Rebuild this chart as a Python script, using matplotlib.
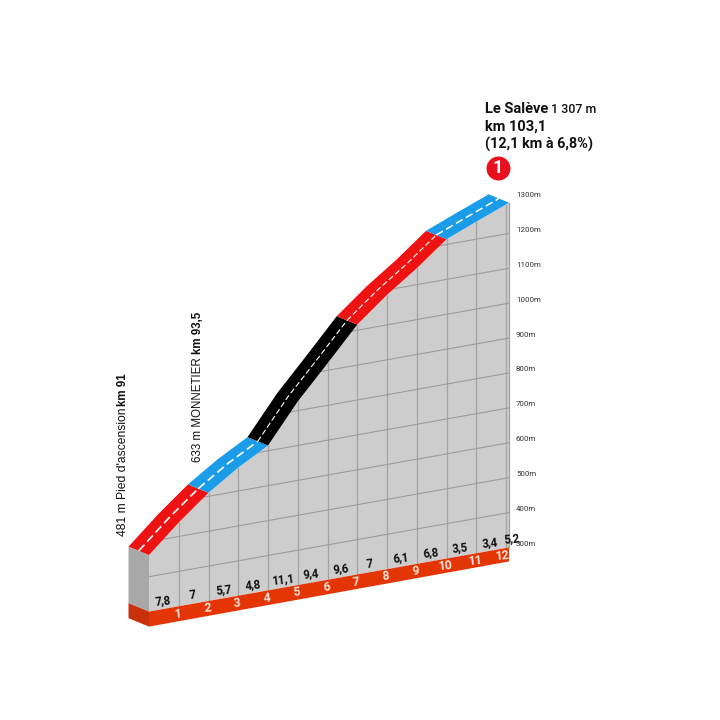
import numpy as np
import matplotlib
matplotlib.use("Agg")
from matplotlib import pyplot as plt

plt.rcParams['font.family'] = ['Roboto', 'DejaVu Sans']
ARIAL = ['Liberation Sans', 'DejaVu Sans']

# profile
km = [0, 1, 2, 3, 4, 5, 6, 7, 8, 9, 10, 11, 12, 12.1]
alt = [481, 559, 629, 686, 734, 845, 939, 1035, 1105, 1166, 1234, 1269, 1303, 1307]
gradients = ["7,8", "7", "5,7", "4,8", "11,1", "9,4", "9,6", "7", "6,1", "6,8", "3,5", "3,4", "5,2"]
gradient_km = [0.47, 1.48, 2.5, 3.48, 4.5, 5.45, 6.45, 7.42, 8.46, 9.47, 10.45, 11.45, 12.2]
km_marks = [1, 2, 3, 4, 5, 6, 7, 8, 9, 10, 11, 12]
alt_ticks = [300, 400, 500, 600, 700, 800, 900, 1000, 1100, 1200, 1300]
# road pieces: first km, last km, colour
pieces = [(0, 2, '#ee1212'), (2, 4, '#1b9ce8'), (4, 7, '#000000'), (7, 10, '#ee1212'), (10, 12.1, '#1b9ce8')]
dash_width = [1.2, 1.2, 0.8, 0.8, 1.1]

km = np.array(km)
alt = np.array(alt)

# oblique view, everything goes through this
PX_KM = 29.75
SLANT = 5.3
PX_M = 0.349
X0, Y0 = 149, 611.6


def project(k, a):
    k = np.asarray(k, dtype=float)
    a = np.asarray(a, dtype=float)
    return X0 + k * PX_KM, Y0 - k * SLANT - (a - 300) * PX_M


DEPTH = (-20.5, -8.4)   # front edge to back edge of the road
ROAD_DROP = 6.6         # front edge of road sits a bit under the real altitude
STRIP = 15

fig = plt.figure(figsize=(7.2, 7.2), dpi=100)
ax = fig.add_axes([0, 0, 1, 1])
ax.set_xlim(0, 720)
ax.set_ylim(720, 0)
ax.axis('off')

fx, fy = project(km, alt)
fy = fy + ROAD_DROP
bx0, by0 = project(km[[0, -1]], [300, 300])

# grey wall
ax.fill(np.r_[fx, bx0[1], bx0[0]], np.r_[fy, by0[1], by0[0]], color='#cdcdcd', lw=0, zorder=1)
# left face
ax.fill([X0 + DEPTH[0], X0, X0, X0 + DEPTH[0]],
        [fy[0] + DEPTH[1], fy[0], Y0, Y0 + DEPTH[1]], color='#a8a8a8', lw=0, zorder=1)

# grid
for k in list(km_marks) + [km[-1]]:
    x, top = project(k, np.interp(k, km, alt))
    x, bot = project(k, 300)
    ax.plot([x, x], [top + ROAD_DROP, bot], color='#a3a3a3', lw=0.9, zorder=2)
for a in alt_ticks[1:-1]:
    # the line starts where it comes out from under the road
    k0 = max(np.interp(a - ROAD_DROP / PX_M, alt, km), 0)
    xs, ys = project([k0, km[-1]], [a, a])
    ax.plot(xs, ys, color='#9c9c9c', lw=0.8, zorder=2)

# strip at the bottom
ax.fill([bx0[0], bx0[1], bx0[1], bx0[0]],
        [by0[0], by0[1], by0[1] + STRIP - 1, by0[0] + STRIP], color='#e33505', lw=0, zorder=3)
ax.fill([X0 + DEPTH[0], X0, X0, X0 + DEPTH[0]],
        [Y0 + DEPTH[1], Y0, Y0 + STRIP, Y0 + DEPTH[1] + STRIP], color='#c9310a', lw=0, zorder=3)

# road
for (start, end, col), w in zip(pieces, dash_width):
    i = (km >= start) & (km <= end)
    ax.fill(np.r_[fx[i], fx[i][::-1] + DEPTH[0]], np.r_[fy[i], fy[i][::-1] + DEPTH[1]],
            color=col, lw=0, zorder=4)
    ax.plot(fx[i] + DEPTH[0] / 2, fy[i] + DEPTH[1] / 2, color='white', lw=w, dashes=(5, 2.5), zorder=5)

# altitude labels
for a in alt_ticks:
    x, y = project(km[-1], a)
    ax.text(516, y - 3.5, f"{a}m", fontsize=5.7, color='#333333', va='center', ha='left', zorder=6)

# gradients
for k, g in zip(gradient_km, gradients):
    x, y = project(k, 300)
    ax.text(x, y - 8.5, g, fontsize=8.3, fontweight='bold', color='#111111',
            ha='center', va='center', rotation=6, zorder=6)
# km numbers
for k in km_marks:
    x, y = project(k, 300)
    ax.text(x - 1 if k < 12 else x - 3, y + 7.5, str(k), fontsize=8.8, fontweight='bold', color='#ffe3d6',
            ha='center', va='center', rotation=5, zorder=6)

# rotated names
ax.text(123, 536, "481 m Pied d'ascension", rotation=90, fontsize=8.7, color='#111111',
        family=ARIAL, ha='center', va='bottom')
ax.text(123, 406, "km 91", rotation=90, fontsize=8.3, fontweight='bold', color='#111111',
        family=ARIAL, ha='center', va='bottom')
ax.text(198, 462, "633 m MONNETIER", rotation=90, fontsize=8.3, color='#111111',
        family=ARIAL, ha='center', va='bottom')
ax.text(198, 354, "km 93,5", rotation=90, fontsize=8.3, fontweight='bold', color='#111111',
        family=ARIAL, ha='center', va='bottom')

# summit
ax.text(485, 109, "Le Salève", fontsize=10.5, fontweight='bold', color='#111111', va='center', ha='left')
ax.text(551, 109.5, "1 307 m", fontsize=9, fontweight='medium', color='#111111', va='center', ha='left')
ax.text(485, 126.5, "km 103,1", fontsize=10.5, fontweight='bold', color='#111111', va='center', ha='left')
ax.text(485, 144, "(12,1 km à 6,8%)", fontsize=10.4, fontweight='bold', color='#111111', va='center', ha='left')
ax.scatter([498], [167.7], s=298, color='#e8101c', lw=0, zorder=6)
ax.text(498, 167.7, "1", fontsize=13, fontweight='bold', color='white', ha='center', va='center', zorder=7)

fig.savefig("out.png", dpi=100, facecolor='white')
